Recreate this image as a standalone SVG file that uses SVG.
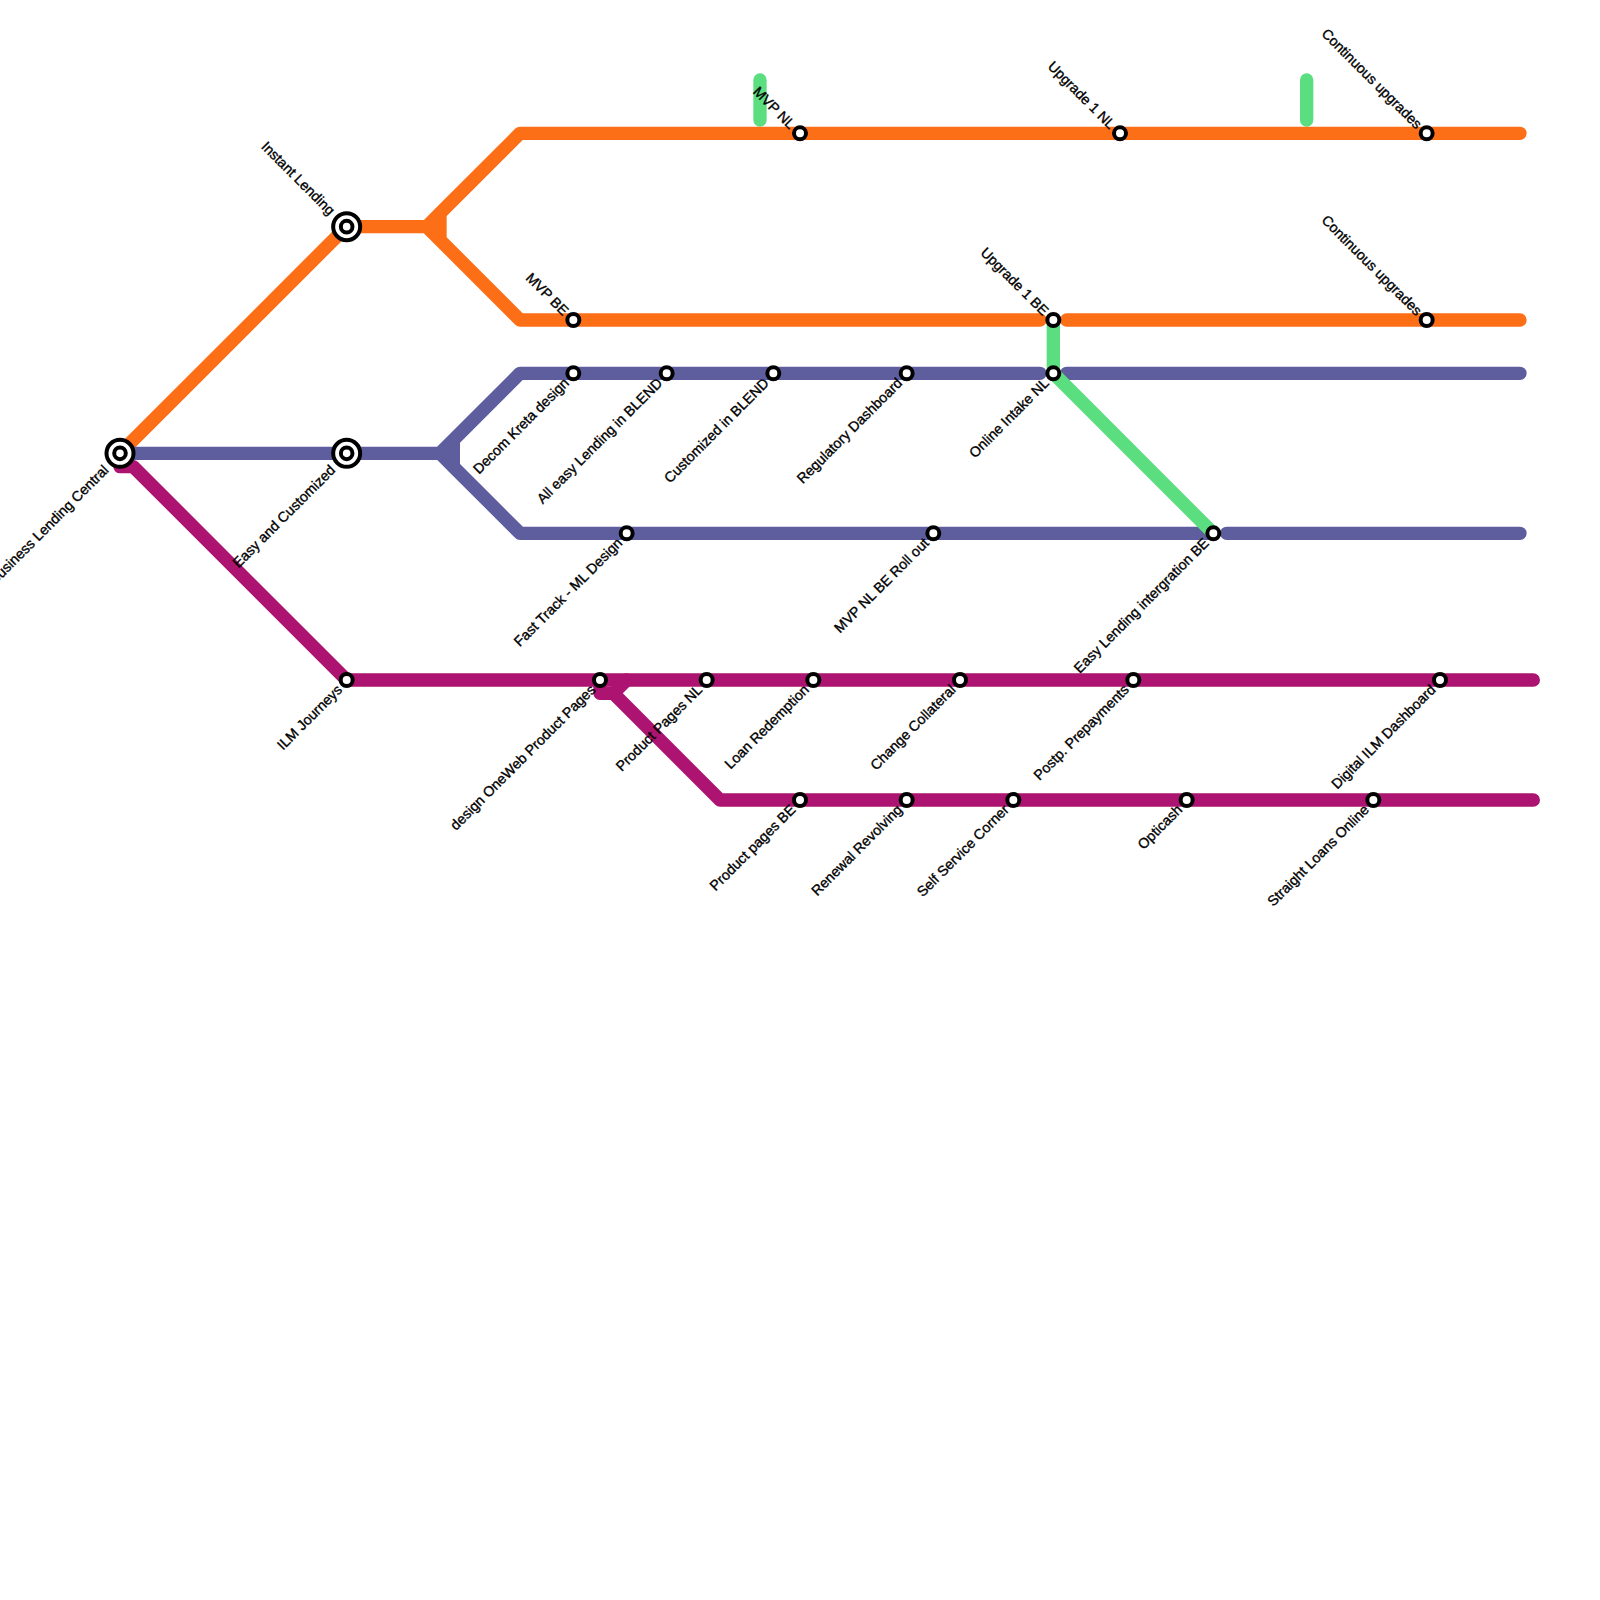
<svg xmlns="http://www.w3.org/2000/svg" width="1600" height="1600" viewBox="0 0 1600 1600">
<style>
.l{fill:none;stroke-width:13.33;stroke-linecap:round;stroke-linejoin:round}
.o{stroke:#fc6f16}.p{stroke:#5e5d9e}.m{stroke:#ad1370}.g{stroke:#5ade80}
.s{fill:#fff;stroke:#000;stroke-width:4}
.t{font-family:"Liberation Sans",Arial,sans-serif;font-size:14.2px;fill:#000;text-anchor:end;dominant-baseline:central;stroke:#000;stroke-width:.35}
</style>
<defs>
<g id="st"><circle r="6" class="s"/></g>
<g id="ic"><circle r="13.5" class="s"/><circle r="5.8" class="s"/></g>
</defs>
<g id="connectors">
<path class="l m" d="M120 453.33V466.67H133.33L346.67 680H1533.33"/>
<path class="l m" d="M600 680V693.33H613.33L626.67 680M613.33 693.33L720 800H1533.33"/>
<path class="l g" d="M760 80V120M1306.67 80V120"/>
<path class="l o" d="M120 453.33L346.67 226.67H426.67L440 213.33L520 133.33H1520M426.67 226.67L440 240L520 320H1040M440 213.33V240M1066.67 320H1520"/>
<path class="l p" d="M120 453.33H440L453.33 440L520 373.33H1040M440 453.33L453.33 466.67L520 533.33H1213.33M453.33 440V466.67M1066.67 373.33H1520M1226.67 533.33H1520"/>
<path class="l g" d="M1053.33 320V373.33L1213.33 533.33"/>
</g>
<g id="n1"><use href="#ic" x="120" y="453.33"/><text class="t" transform="translate(120 453.33) rotate(-45)" x="-20">Business Lending Central</text></g>
<g id="n2"><use href="#ic" x="346.67" y="226.67"/><text class="t" transform="translate(346.67 226.67) rotate(45)" x="-20">Instant Lending</text></g>
<g id="n3"><use href="#ic" x="346.67" y="453.33"/><text class="t" transform="translate(346.67 453.33) rotate(-45)" x="-20">Easy and Customized</text></g>
<g id="n4"><use href="#st" x="800" y="133.33"/><text class="t" transform="translate(800 133.33) rotate(45)" x="-10">MVP NL</text></g>
<g id="n5"><use href="#st" x="1120" y="133.33"/><text class="t" transform="translate(1120 133.33) rotate(45)" x="-10">Upgrade 1 NL</text></g>
<g id="n6"><use href="#st" x="1426.67" y="133.33"/><text class="t" transform="translate(1426.67 133.33) rotate(45)" x="-10">Continuous upgrades</text></g>
<g id="n7"><use href="#st" x="573.33" y="320"/><text class="t" transform="translate(573.33 320) rotate(45)" x="-10">MVP BE</text></g>
<g id="n8"><use href="#st" x="1053.33" y="320"/><text class="t" transform="translate(1053.33 320) rotate(45)" x="-10">Upgrade 1 BE</text></g>
<g id="n9"><use href="#st" x="1426.67" y="320"/><text class="t" transform="translate(1426.67 320) rotate(45)" x="-10">Continuous upgrades</text></g>
<g id="n10"><use href="#st" x="573.33" y="373.33"/><text class="t" transform="translate(573.33 373.33) rotate(-45)" x="-10">Decom Kreta design</text></g>
<g id="n11"><use href="#st" x="666.67" y="373.33"/><text class="t" transform="translate(666.67 373.33) rotate(-45)" x="-10">All easy Lending in BLEND</text></g>
<g id="n12"><use href="#st" x="773.33" y="373.33"/><text class="t" transform="translate(773.33 373.33) rotate(-45)" x="-10">Customized in BLEND</text></g>
<g id="n13"><use href="#st" x="906.67" y="373.33"/><text class="t" transform="translate(906.67 373.33) rotate(-45)" x="-10">Regulatory Dashboard</text></g>
<g id="n14"><use href="#st" x="1053.33" y="373.33"/><text class="t" transform="translate(1053.33 373.33) rotate(-45)" x="-10">Online Intake NL</text></g>
<g id="n15"><use href="#st" x="626.67" y="533.33"/><text class="t" transform="translate(626.67 533.33) rotate(-45)" x="-10">Fast Track - ML Design</text></g>
<g id="n16"><use href="#st" x="933.33" y="533.33"/><text class="t" transform="translate(933.33 533.33) rotate(-45)" x="-10">MVP NL BE Roll out</text></g>
<g id="n17"><use href="#st" x="1213.33" y="533.33"/><text class="t" transform="translate(1213.33 533.33) rotate(-45)" x="-10">Easy Lending intergration BE</text></g>
<g id="n18"><use href="#st" x="346.67" y="680"/><text class="t" transform="translate(346.67 680) rotate(-45)" x="-10">ILM Journeys</text></g>
<g id="n19"><use href="#st" x="600" y="680"/><text class="t" transform="translate(600 680) rotate(-45)" x="-10">design OneWeb Product Pages</text></g>
<g id="n20"><use href="#st" x="706.67" y="680"/><text class="t" transform="translate(706.67 680) rotate(-45)" x="-10">Product Pages NL</text></g>
<g id="n21"><use href="#st" x="813.33" y="680"/><text class="t" transform="translate(813.33 680) rotate(-45)" x="-10">Loan Redemption</text></g>
<g id="n22"><use href="#st" x="960" y="680"/><text class="t" transform="translate(960 680) rotate(-45)" x="-10">Change Collateral</text></g>
<g id="n23"><use href="#st" x="1133.33" y="680"/><text class="t" transform="translate(1133.33 680) rotate(-45)" x="-10">Postp. Prepayments</text></g>
<g id="n24"><use href="#st" x="1440" y="680"/><text class="t" transform="translate(1440 680) rotate(-45)" x="-10">Digital ILM Dashboard</text></g>
<g id="n25"><use href="#st" x="800" y="800"/><text class="t" transform="translate(800 800) rotate(-45)" x="-10">Product pages BE</text></g>
<g id="n26"><use href="#st" x="906.67" y="800"/><text class="t" transform="translate(906.67 800) rotate(-45)" x="-10">Renewal Revolving</text></g>
<g id="n27"><use href="#st" x="1013.33" y="800"/><text class="t" transform="translate(1013.33 800) rotate(-45)" x="-10">Self Service Corner</text></g>
<g id="n28"><use href="#st" x="1186.67" y="800"/><text class="t" transform="translate(1186.67 800) rotate(-45)" x="-10">Opticash</text></g>
<g id="n29"><use href="#st" x="1373.33" y="800"/><text class="t" transform="translate(1373.33 800) rotate(-45)" x="-10">Straight Loans Online</text></g>
</svg>
